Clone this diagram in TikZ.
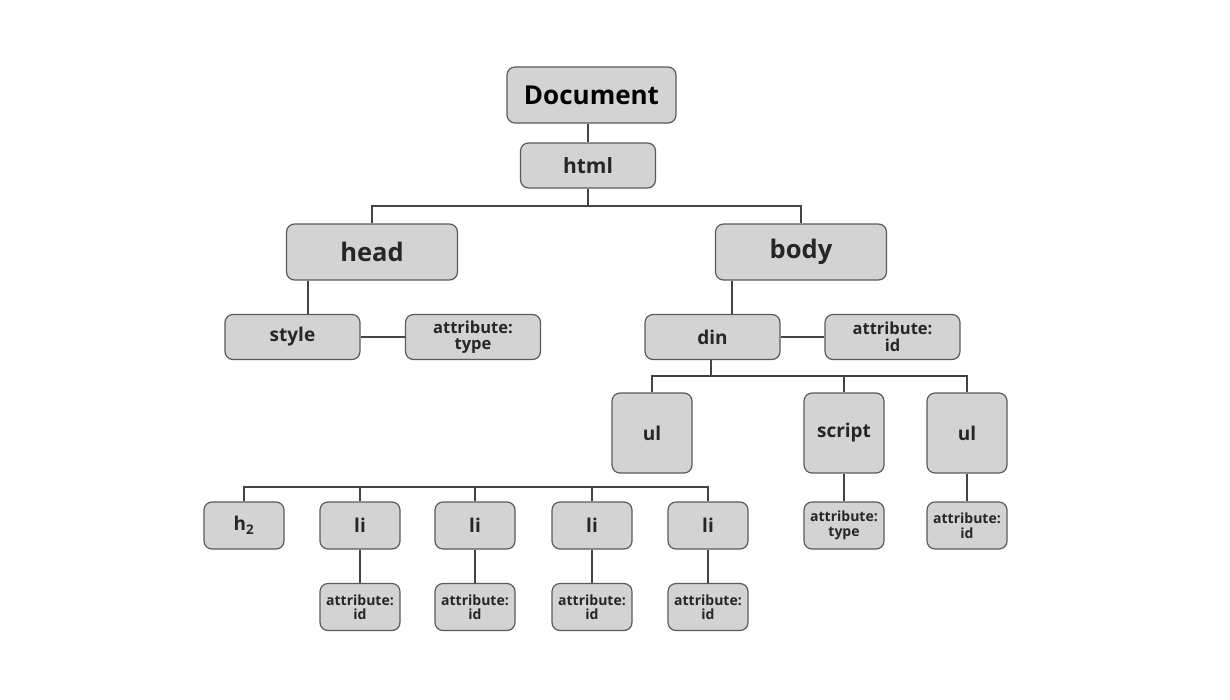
\documentclass[tikz,border=0pt]{standalone}
\usepackage{fontspec}
\setmainfont{Open Sans}
\definecolor{boxfill}{HTML}{D3D3D3}
\definecolor{boxline}{HTML}{5A5A5A}
\definecolor{wire}{HTML}{444444}
\tikzset{
  box/.style={draw=boxline, fill=boxfill, rounded corners=8pt, line width=1.2pt,
    align=center, inner sep=0pt, text=black!85},
  wide/.style={box, minimum width=135pt, minimum height=45pt},
  big/.style={box, minimum width=171pt, minimum height=56pt},
  tall/.style={box, minimum width=80pt, minimum height=80pt},
  small/.style={box, minimum width=80pt, minimum height=47pt},
  link/.style={draw=wire, line width=1.3pt},
  fdoc/.style={font=\fontsize{26}{28}\selectfont\bfseries, text=black},
  fbig/.style={font=\bfseries\fontsize{25.5}{29}\selectfont},
  fmid/.style={font=\bfseries\fontsize{21}{25}\selectfont},
  fnorm/.style={font=\bfseries\fontsize{19}{22}\selectfont},
  fattr/.style={font=\bfseries\fontsize{16.5}{16.5}\selectfont},
  fsattr/.style={font=\bfseries\fontsize{14}{14.5}\selectfont},
}
\begin{document}
\begin{tikzpicture}[x=1pt,y=-1pt]
\useasboundingbox (0,0) rectangle (1230,699);
% nodes
\node[big, minimum width=169pt, fdoc] (doc) at (591.5,95) {Document};
\node[wide, fmid] (html) at (588,165.5) {html};
\node[big, fbig] (head) at (372,252) {head};
\node[big, fbig] (body) at (801,252) {body};
\node[wide, fnorm] (style) at (292.5,337) {style};
\node[wide, fattr] (atype) at (473,337) {attribute:\\type};
\node[wide, fnorm] (din) at (712.5,337) {din};
\node[wide, fattr] (aid) at (892.5,337) {attribute:\\id};
\node[tall, fnorm] (ulA) at (652,433) {ul};
\node[tall, fnorm] (script) at (844,433) {script};
\node[tall, fnorm] (ulB) at (967,433) {ul};
\node[small, fsattr] (stype) at (844,525.5) {attribute:\\type};
\node[small, fsattr] (ulid) at (967,525.5) {attribute:\\id};
\node[small, fnorm] (h2) at (244,525.5) {h\textsubscript{2}};
\node[small, fnorm] (liA) at (360,525.5) {li};
\node[small, fnorm] (liB) at (475,525.5) {li};
\node[small, fnorm] (liC) at (592,525.5) {li};
\node[small, fnorm] (liD) at (708,525.5) {li};
\node[small, fsattr] (idA) at (360,607) {attribute:\\id};
\node[small, fsattr] (idB) at (475,607) {attribute:\\id};
\node[small, fsattr] (idC) at (592,607) {attribute:\\id};
\node[small, fsattr] (idD) at (708,607) {attribute:\\id};
% junctions
\coordinate (hbar) at (588,206);
\coordinate (dbar) at (711,376);
\coordinate (bbar) at (475,487);
% connectors
\draw[link] (doc.south -| html.north) -- (html.north);
\draw[link] (html.south) -- (hbar);
\draw[link] (head.north) |- (hbar) -| (body.north);
\draw[link] (head.south -| 308,0) -- (style.north -| 308,0);
\draw[link] (style.east) -- (atype.west);
\draw[link] (body.south -| 732,0) -- (din.north -| 732,0);
\draw[link] (din.east) -- (aid.west);
\draw[link] (din.south -| dbar) -- (dbar);
\draw[link] (ulA.north) |- (dbar) -| (ulB.north);
\draw[link] (script.north) -- (script.north |- dbar);
\draw[link] (script.south) -- (stype.north);
\draw[link] (ulB.south) -- (ulid.north);
\draw[link] (h2.north) |- (bbar) -| (liD.north);
\draw[link] (liA.north) -- (liA.north |- bbar);
\draw[link] (liB.north) -- (liB.north |- bbar);
\draw[link] (liC.north) -- (liC.north |- bbar);
\draw[link] (liA.south) -- (idA.north);
\draw[link] (liB.south) -- (idB.north);
\draw[link] (liC.south) -- (idC.north);
\draw[link] (liD.south) -- (idD.north);
\end{tikzpicture}
\end{document}
